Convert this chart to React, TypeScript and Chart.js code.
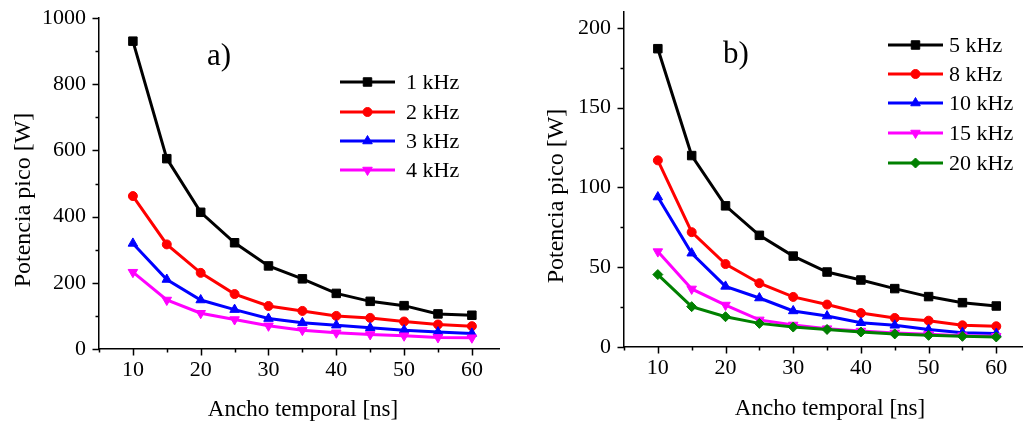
import React, { useEffect, useRef } from 'react';
import { Chart, registerables } from 'chart.js';

Chart.register(...registerables);

// ---------- data ----------
const pulseWidths = [10, 15, 20, 25, 30, 35, 40, 45, 50, 55, 60];

const labelsA = ['1 kHz', '2 kHz', '3 kHz', '4 kHz'];
const powerA_1k = [930, 575, 413, 321, 251, 212, 168, 144, 131, 106, 102];
const powerA_2k = [462, 316, 230, 166, 130, 115, 100, 94, 83, 74, 69];
const powerA_3k = [319, 210, 148, 119, 92, 79, 72, 64, 57, 51, 47];
const powerA_4k = [232, 148, 108, 89, 70, 57, 49, 44, 40, 35, 34];

const labelsB = ['5 kHz', '8 kHz', '10 kHz', '15 kHz', '20 kHz'];
const powerB_5k = [187, 120, 88.5, 70, 57, 47, 42, 36.6, 31.6, 27.8, 25.7];
const powerB_8k = [117, 72, 52, 40, 31.4, 26.6, 21.3, 18.2, 16.5, 13.6, 13];
const powerB_10k = [94, 58.8, 38, 30.7, 22.6, 19.4, 15.2, 13.6, 10.9, 9, 8.4];
const powerB_15k = [59.8, 36.4, 26.3, 17, 13.8, 11.5, 10, 8.8, 8, 7.1, 6.7];
const powerB_20k = [45.4, 25.3, 19, 14.8, 12.5, 11, 9.4, 8.2, 7.3, 6.7, 6.3];

const xTickLabels = [10, 20, 30, 40, 50, 60];
const yTickLabelsA = [0, 200, 400, 600, 800, 1000];
const yTickLabelsB = [0, 50, 100, 150, 200];

const xTitle = 'Ancho temporal [ns]';
const yTitle = 'Potencia pico [W]';

// ---------- styles ----------
const FONT = '"Liberation Serif", "Times New Roman", serif';
const colors = ['#000000', '#ff0000', '#0000ff', '#ff00ff', '#008000'];
const styles: any[] = [
  { pointStyle: 'rect', radius: 6, rotation: 0 },
  { pointStyle: 'circle', radius: 4.5, rotation: 0 },
  { pointStyle: 'triangle', radius: 5.5, rotation: 0 },
  { pointStyle: 'triangle', radius: 5.5, rotation: 180 },
  { pointStyle: 'rectRot', radius: 5, rotation: 0 },
];

function drawMarker(ctx: CanvasRenderingContext2D, idx: number, x: number, y: number, color: string) {
  const st = styles[idx];
  const r = st.radius;
  ctx.save();
  ctx.fillStyle = color;
  ctx.strokeStyle = color;
  ctx.lineWidth = 1;
  ctx.beginPath();
  if (st.pointStyle === 'rect') {
    const s = r * Math.SQRT1_2;
    ctx.rect(x - s, y - s, 2 * s, 2 * s);
  } else if (st.pointStyle === 'circle') {
    ctx.arc(x, y, r, 0, Math.PI * 2);
  } else if (st.pointStyle === 'triangle') {
    let rad = (st.rotation * Math.PI) / 180;
    for (let k = 0; k < 3; k++) {
      const px = x + Math.sin(rad) * r;
      const py = y - Math.cos(rad) * r;
      if (k === 0) ctx.moveTo(px, py);
      else ctx.lineTo(px, py);
      rad += (2 * Math.PI) / 3;
    }
    ctx.closePath();
  } else {
    ctx.moveTo(x, y - r);
    ctx.lineTo(x + r, y);
    ctx.lineTo(x, y + r);
    ctx.lineTo(x - r, y);
    ctx.closePath();
  }
  ctx.fill();
  ctx.stroke();
  ctx.restore();
}

interface PanelCfg {
  labels: string[];
  series: number[][];
  yMax: number;
  xMax: number;
  yStep: number;
  yTickLabels: number[];
  yAxisWidth: number;
  xAxisHeight: number;
  padTop: number;
  padRight: number;
  canvasW: number;
  panelLabel: string;
  panelLabelPos: [number, number];
  yTitlePos: [number, number];
  xTitlePos: [number, number];
  legendLine: [number, number];
  legendTextX: number;
  legendRows: number[];
}

function Panel({ cfg, left }: { cfg: PanelCfg; left: number }) {
  const ref = useRef<HTMLCanvasElement | null>(null);
  useEffect(() => {
    if (!ref.current) return;
    const n = cfg.series.length;
    const datasets = cfg.series.map((s, i) => ({
      label: cfg.labels[i],
      data: pulseWidths.map((x, j) => ({ x, y: s[j] })),
      borderColor: colors[i],
      backgroundColor: colors[i],
      borderWidth: 3,
      pointStyle: styles[i].pointStyle,
      pointRadius: styles[i].radius,
      pointRotation: styles[i].rotation,
      pointBorderWidth: 1,
      pointBackgroundColor: colors[i],
      pointBorderColor: colors[i],
      tension: 0,
      order: n - 1 - i,
      clip: false as any,
    }));

    const decor = {
      id: 'decor',
      afterDraw(chart: any) {
        const ctx: CanvasRenderingContext2D = chart.ctx;
        const xs = chart.scales.x;
        const ys = chart.scales.y;
        const area = chart.chartArea;
        ctx.save();
        ctx.strokeStyle = '#000';
        ctx.lineWidth = 1.5;
        ctx.beginPath();
        for (const t of xs.ticks) {
          const px = Math.round(xs.getPixelForValue(t.value)) + 0.5;
          const len = xTickLabels.includes(t.value) ? 6.5 : 3.5;
          ctx.moveTo(px, area.bottom);
          ctx.lineTo(px, area.bottom + len);
        }
        for (const t of ys.ticks) {
          const py = Math.round(ys.getPixelForValue(t.value)) + 0.5;
          const len = cfg.yTickLabels.includes(t.value) ? 6.5 : 3.5;
          ctx.moveTo(area.left, py);
          ctx.lineTo(area.left - len, py);
        }
        ctx.stroke();

        // axis titles
        ctx.fillStyle = '#000';
        ctx.textAlign = 'center';
        ctx.textBaseline = 'alphabetic';
        ctx.font = `23px ${FONT}`;
        ctx.fillText(xTitle, cfg.xTitlePos[0], cfg.xTitlePos[1]);
        ctx.save();
        ctx.font = `24px ${FONT}`;
        ctx.translate(cfg.yTitlePos[0], cfg.yTitlePos[1]);
        ctx.rotate(-Math.PI / 2);
        ctx.fillText(yTitle, 0, 0);
        ctx.restore();

        // panel label
        ctx.font = `31px ${FONT}`;
        ctx.textAlign = 'left';
        ctx.fillText(cfg.panelLabel, cfg.panelLabelPos[0], cfg.panelLabelPos[1]);

        // legend
        ctx.font = `22px ${FONT}`;
        ctx.textBaseline = 'middle';
        cfg.labels.forEach((lab, i) => {
          const y = cfg.legendRows[i];
          ctx.strokeStyle = colors[i];
          ctx.lineWidth = 3;
          ctx.beginPath();
          ctx.moveTo(cfg.legendLine[0], y);
          ctx.lineTo(cfg.legendLine[1], y);
          ctx.stroke();
          drawMarker(ctx, i, (cfg.legendLine[0] + cfg.legendLine[1]) / 2, y, colors[i]);
          ctx.fillStyle = '#000';
          ctx.fillText(lab, cfg.legendTextX, y + 1);
        });
        ctx.restore();
      },
    };

    const chart = new Chart(ref.current, {
      type: 'line',
      data: { datasets },
      options: {
        animation: false,
        responsive: false,
        devicePixelRatio: 1,
        layout: { padding: { left: 0, top: cfg.padTop, right: cfg.padRight, bottom: 0 } },
        plugins: { legend: { display: false }, tooltip: { enabled: false } },
        scales: {
          x: {
            type: 'linear',
            min: 5,
            max: cfg.xMax,
            grid: { display: false, drawTicks: false },
            border: { display: true, color: '#000', width: 1.5 },
            ticks: {
              stepSize: 5,
              includeBounds: false,
              autoSkip: false,
              maxRotation: 0,
              padding: 8,
              color: '#000',
              font: { family: FONT, size: 22 },
              callback: (v: any) => (xTickLabels.includes(v) ? String(v) : ''),
            },
            afterFit: (s: any) => {
              s.height = cfg.xAxisHeight;
              s.paddingLeft = 0;
              s.paddingRight = 0;
            },
          },
          y: {
            type: 'linear',
            min: 0,
            max: cfg.yMax,
            grid: { display: false, drawTicks: false },
            border: { display: true, color: '#000', width: 1.5 },
            ticks: {
              stepSize: cfg.yStep,
              includeBounds: false,
              autoSkip: false,
              padding: 13,
              color: '#000',
              font: { family: FONT, size: 22 },
              callback: (v: any) => (cfg.yTickLabels.includes(v) ? String(v) : ''),
            },
            afterFit: (s: any) => {
              s.width = cfg.yAxisWidth;
              s.paddingTop = 0;
              s.paddingBottom = 0;
            },
          },
        },
      } as any,
      plugins: [decor],
    });
    return () => chart.destroy();
  }, [cfg]);
  return (
    <canvas
      ref={ref}
      width={cfg.canvasW}
      height={424}
      style={{ position: 'absolute', left, top: 0, width: cfg.canvasW, height: 424 }}
    />
  );
}

const panelA: PanelCfg = {
  labels: labelsA,
  series: [powerA_1k, powerA_2k, powerA_3k, powerA_4k],
  yMax: 1000,
  xMax: 64,
  yStep: 100,
  yTickLabels: yTickLabelsA,
  yAxisWidth: 99,
  xAxisHeight: 75,
  padTop: 18,
  padRight: 16,
  canvasW: 515,
  panelLabel: 'a)',
  panelLabelPos: [207, 65],
  yTitlePos: [30, 200],
  xTitlePos: [303, 416],
  legendLine: [340, 395],
  legendTextX: 406,
  legendRows: [82, 112, 141, 170],
};

const panelB: PanelCfg = {
  labels: labelsB,
  series: [powerB_5k, powerB_8k, powerB_10k, powerB_15k, powerB_20k],
  yMax: 210,
  xMax: 63.8,
  yStep: 25,
  yTickLabels: yTickLabelsB,
  yAxisWidth: 109,
  xAxisHeight: 77,
  padTop: 12,
  padRight: 1,
  canvasW: 514,
  panelLabel: 'b)',
  panelLabelPos: [208, 63],
  yTitlePos: [48, 196],
  xTitlePos: [315, 415],
  legendLine: [373, 428],
  legendTextX: 434,
  legendRows: [45, 74, 103, 133, 163],
};

export default function App() {
  return (
    <div style={{ position: 'fixed', left: 0, top: 0, width: 1029, height: 424, background: '#fff' }}>
      <Panel cfg={panelA} left={0} />
      <Panel cfg={panelB} left={515} />
    </div>
  );
}
